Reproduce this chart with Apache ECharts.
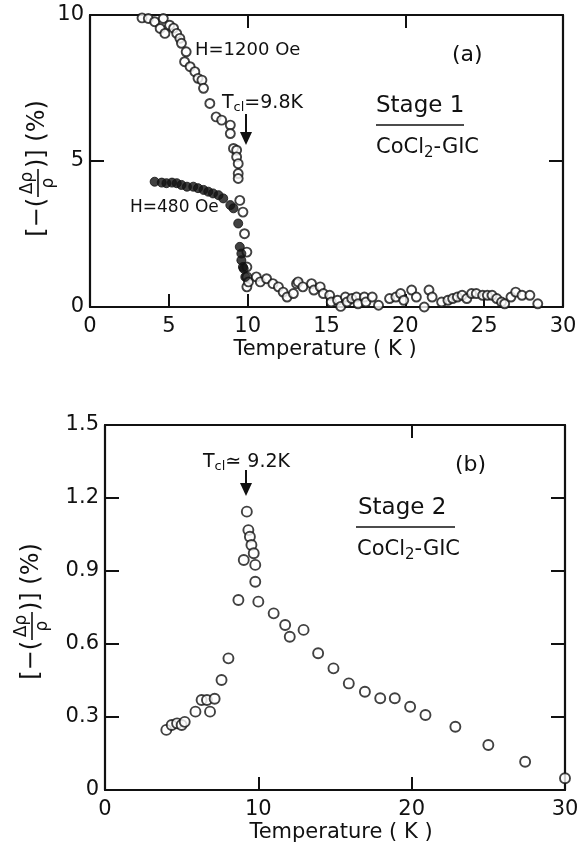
<!DOCTYPE html>
<html>
<head>
<meta charset="utf-8">
<script src="https://cdn.jsdelivr.net/npm/echarts@6/dist/echarts.min.js"></script>
<style>
html,body{margin:0;padding:0;background:#fff;}
#chart{width:584px;height:848px;}
</style>
</head>
<body>
<div id="chart"></div>
<script>
// (a) stage 1, H = 1200 Oe (open circles)
var h1200Temp = [3.3,3.7,4.1,4.65,4.45,4.75,5.05,5.3,5.5,5.7,5.8,6.1,6.0,6.35,6.65,6.85,7.1,7.2,7.6,8.0,8.35,8.9,8.9,9.1,9.3,9.3,9.4,9.4,9.4,9.5,9.7,9.8,9.95,9.95,9.95,9.95,10.05,10.55,10.8,11.2,11.6,11.95,12.25,12.5,12.9,13.1,13.2,13.5,14.05,14.2,14.6,14.8,15.2,15.3,15.7,15.9,16.2,16.3,16.6,16.9,17.0,17.4,17.5,17.9,18.3,19.0,19.4,19.7,19.9,20.4,20.7,21.2,21.5,21.7,22.3,22.7,23.0,23.3,23.6,23.9,24.2,24.5,24.9,25.2,25.5,25.8,26.1,26.3,26.7,27.0,27.4,27.9,28.4];
var h1200Val  = [9.9,9.88,9.77,9.88,9.54,9.37,9.65,9.55,9.37,9.2,9.03,8.74,8.4,8.23,8.06,7.83,7.77,7.49,6.97,6.51,6.4,6.23,5.94,5.43,5.37,5.14,4.91,4.57,4.4,3.65,3.25,2.51,1.88,1.37,1.03,0.69,0.86,1.03,0.86,0.97,0.8,0.69,0.51,0.34,0.46,0.8,0.86,0.69,0.8,0.58,0.69,0.46,0.4,0.17,0.23,0.02,0.34,0.17,0.29,0.34,0.11,0.34,0.17,0.34,0.06,0.29,0.34,0.46,0.23,0.58,0.34,0.0,0.58,0.34,0.17,0.23,0.29,0.34,0.4,0.29,0.46,0.46,0.4,0.4,0.4,0.29,0.17,0.11,0.34,0.51,0.4,0.4,0.11];
// (a) stage 1, H = 480 Oe (filled circles)
var h480Temp = [4.1,4.55,4.85,5.2,5.5,5.8,6.15,6.55,6.85,7.2,7.5,7.8,8.15,8.45,8.9,9.1,9.4,9.5,9.6,9.6,9.7,9.75,9.85];
var h480Val  = [4.29,4.26,4.24,4.26,4.24,4.18,4.12,4.12,4.07,4.01,3.95,3.89,3.83,3.72,3.49,3.38,2.86,2.06,1.83,1.6,1.37,1.31,1.03];
// (b) stage 2 (open circles)
var stage2Temp = [4.0,4.35,4.7,5.0,5.2,5.9,6.3,6.65,6.85,7.15,7.6,8.05,8.7,9.05,9.25,9.35,9.45,9.55,9.7,9.8,9.8,10.0,11.0,11.75,12.05,12.95,13.9,14.9,15.9,16.95,17.95,18.9,19.9,20.9,22.85,25.0,27.4,30.0];
var stage2Val  = [0.247,0.267,0.274,0.267,0.28,0.322,0.37,0.37,0.322,0.375,0.452,0.541,0.781,0.945,1.144,1.068,1.041,1.007,0.973,0.925,0.856,0.774,0.726,0.678,0.63,0.658,0.562,0.5,0.438,0.404,0.377,0.377,0.342,0.308,0.26,0.185,0.116,0.048];

// [min, max, interval]
var xTicksA = [0,30,5];
var xTopA   = [0,30,10];
var yTicksA = [0,10,5];
var xTicksB = [0,30,10];
var xTopB   = [0,30,20];
var yTicksB = [0,1.5,0.3];

function zip(xs, ys){
	var out = [];
	for (var i = 0; i < xs.length; i++) out.push([xs[i], ys[i]]);
	return out;
}

var FONT = 'DejaVu Sans';
var black = '#111';

function axisX(grid, ticks, pos, labels){
	return {
		type: 'value', gridIndex: grid, position: pos,
		min: ticks[0], max: ticks[1], interval: ticks[2],
		axisLine: {show: true, onZero: false, lineStyle: {color: black, width: 2.2}},
		axisTick: {show: true, inside: true, length: 13, lineStyle: {color: black, width: 2}},
		axisLabel: {show: labels, color: black, fontFamily: FONT, fontSize: 21, margin: 9},
		splitLine: {show: false}
	};
}
function axisY(grid, ticks, pos, labels){
	return {
		type: 'value', gridIndex: grid, position: pos,
		min: ticks[0], max: ticks[1], interval: ticks[2],
		axisLine: {show: true, onZero: false, lineStyle: {color: black, width: 2.2}},
		axisTick: {show: true, inside: true, length: 14, lineStyle: {color: black, width: 2}},
		axisLabel: {show: labels, color: black, fontFamily: FONT, fontSize: 21, margin: 6,
			formatter: function(v){ return v === 0 ? '0' : (ticks[2] < 1 ? v.toFixed(1) : String(v)); }},
		splitLine: {show: false}
	};
}

var openCircle = {color: '#fff', borderColor: black, borderWidth: 1.9};
var fillCircle = {color: black, borderColor: black, borderWidth: 1};

function txt(x, y, s, size, extra){
	var o = {type: 'text', x: x, y: y, style: {text: s, fill: black, font: size + 'px "' + FONT + '"',
		verticalAlign: 'middle',
		rich: {s: {fontSize: Math.round(size * 0.7), fontFamily: FONT, fill: black, padding: [10, 0, 0, 0]},
		       n: {fontSize: size, fontFamily: FONT, fill: black}}}};
	if (extra) for (var k in extra) o.style[k] = extra[k];
	return o;
}
function arrow(x, y1, y2){
	return [
		{type: 'line', shape: {x1: x, y1: y1, x2: x, y2: y2 - 8}, style: {stroke: black, lineWidth: 2}},
		{type: 'polygon', shape: {points: [[x - 6, y2 - 13], [x + 6, y2 - 13], [x, y2]]}, style: {fill: black}}
	];
}
function yLabel(cx, cy){
	return {
		type: 'group', x: cx, y: cy, rotation: Math.PI / 2,
		children: [
			{type: 'text', x: -38, y: 0, style: {text: '[\u2212(', fill: black, font: '24px "' + FONT + '"', align: 'right', verticalAlign: 'middle'}},
			{type: 'text', x: -23, y: -2, style: {text: '\u0394\u03c1', fill: black, font: '17px "' + FONT + '"', align: 'center', verticalAlign: 'bottom'}},
			{type: 'line', shape: {x1: -37, y1: 0, x2: -9, y2: 0}, style: {stroke: black, lineWidth: 1.6}},
			{type: 'text', x: -23, y: 2, style: {text: '\u03c1', fill: black, font: '17px "' + FONT + '"', align: 'center', verticalAlign: 'top'}},
			{type: 'text', x: -8, y: 0, style: {text: ')] (%)', fill: black, font: '24px "' + FONT + '"', align: 'left', verticalAlign: 'middle'}}
		]
	};
}

var graphics = [].concat(
	[txt(195, 50, 'H=1200 Oe', 18),
	 txt(222, 103, '{n|T}{s|cl}{n|=9.8K}', 19),
	 txt(130, 208, 'H=480 Oe', 17),
	 txt(452, 55, '(a)', 22),
	 txt(376, 106, 'Stage 1', 23),
	 {type: 'line', shape: {x1: 376, y1: 125, x2: 464, y2: 125}, style: {stroke: black, lineWidth: 1.6}},
	 txt(376, 148, '{n|CoCl}{s|2}{n|-GIC}', 21),
	 txt(325, 350, 'Temperature ( K )', 21, {align: 'center'})],
	arrow(246, 114, 145),
	[txt(203, 462, '{n|T}{s|cl}{n|\u2243 9.2K}', 19),
	 txt(455, 465, '(b)', 22),
	 txt(358, 508, 'Stage 2', 23),
	 {type: 'line', shape: {x1: 356, y1: 527, x2: 455, y2: 527}, style: {stroke: black, lineWidth: 1.6}},
	 txt(357, 550, '{n|CoCl}{s|2}{n|-GIC}', 21),
	 txt(341, 833, 'Temperature ( K )', 21, {align: 'center'})],
	arrow(246, 470, 496),
	[yLabel(38, 160), yLabel(32, 603)]
);

var chart = echarts.init(document.getElementById('chart'));
chart.setOption({
	backgroundColor: '#fff',
	animation: false,
	grid: [
		{left: 90, top: 15, width: 473, height: 292},
		{left: 105, top: 425, width: 460, height: 365}
	],
	xAxis: [
		axisX(0, xTicksA, 'bottom', true),
		axisX(0, xTopA, 'top', false),
		axisX(1, xTicksB, 'bottom', true),
		axisX(1, xTopB, 'top', false)
	],
	yAxis: [
		axisY(0, yTicksA, 'left', true),
		axisY(0, yTicksA, 'right', false),
		axisY(1, yTicksB, 'left', true),
		axisY(1, yTicksB, 'right', false)
	],
	series: [
		{type: 'scatter', xAxisIndex: 0, yAxisIndex: 0, symbolSize: 9, itemStyle: openCircle, data: zip(h1200Temp, h1200Val)},
		{type: 'scatter', xAxisIndex: 0, yAxisIndex: 0, symbolSize: 9, itemStyle: fillCircle, data: zip(h480Temp, h480Val)},
		{type: 'scatter', xAxisIndex: 2, yAxisIndex: 2, symbolSize: 10, itemStyle: openCircle, data: zip(stage2Temp, stage2Val)}
	],
	graphic: graphics
});
</script>
</body>
</html>
